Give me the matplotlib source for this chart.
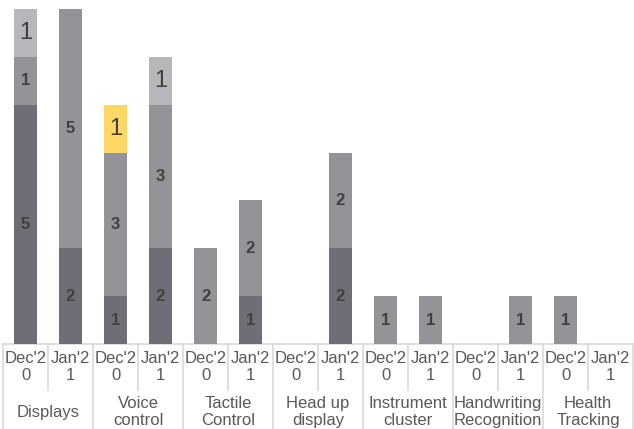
import matplotlib
matplotlib.use("Agg")
import matplotlib.pyplot as plt
import numpy as np

categories = ["Displays", "Voice\ncontrol", "Tactile\nControl", "Head up\ndisplay",
              "Instrument\ncluster", "Handwriting\nRecognition", "Health\nTracking"]
periods = ["Dec'2\n0", "Jan'2\n1"]

dark   = [5, 2, 1, 2, 0, 1, 0, 2, 0, 0, 0, 0, 0, 0]
mid    = [1, 5, 3, 3, 2, 2, 0, 2, 1, 1, 0, 1, 1, 0]
yellow = [0, 0, 1, 0, 0, 0, 0, 0, 0, 0, 0, 0, 0, 0]
light  = [1, 0, 0, 1, 0, 0, 0, 0, 0, 0, 0, 0, 0, 0]

series = [
    (dark,   "#6e6e76", dict(fontsize=12, fontweight="bold")),
    (mid,    "#939398", dict(fontsize=12, fontweight="bold")),
    (yellow, "#fed766", dict(fontsize=17, fontweight="normal")),
    (light,  "#b7b7bb", dict(fontsize=17, fontweight="normal")),
]

plt.rcParams['font.family'] = ['Liberation Sans', 'DejaVu Sans']

W, H = 634, 429
fig = plt.figure(figsize=(W / 100, H / 100), dpi=100)
top_px, zero_px, left_px, right_px = 9, 344, 3, 633
ax = fig.add_axes([left_px / W, 1 - zero_px / H, (right_px - left_px) / W, (zero_px - top_px) / H])

n = len(dark)
x = np.arange(n)
bottom = np.zeros(n)
for vals, color, style in series:
    v = np.array(vals, dtype=float)
    ax.bar(x, v, bottom=bottom, width=0.53, color=color, edgecolor="none", zorder=2)
    for i in range(n):
        if v[i] > 0:
            ax.text(x[i], bottom[i] + v[i] / 2, f"{int(v[i])}", ha="center", va="center",
                    color="#404040", zorder=3, **style)
    bottom += v

ax.set_xlim(-0.5, n - 0.5)
ax.set_ylim(0, 7)
ax.axis("off")

axh = zero_px - top_px
def ay(py):
    return (zero_px - py) / axh

tr = ax.get_xaxis_transform()
line_kw = dict(color="#d9d9d9", lw=1.2, transform=tr, clip_on=False, zorder=1)
ax.plot([-0.5, n - 0.5], [0, 0], **line_kw)
for b in range(n + 1):
    xb = b - 0.5
    if b % 2 == 0:
        ax.plot([xb, xb], [0, ay(440)], **line_kw)
    else:
        ax.plot([xb, xb], [0, ay(390)], **line_kw)

txt_color = "#595959"
for i in range(n):
    ax.text(x[i], ay(367), periods[i % 2], ha="center", va="center", fontsize=12,
            color=txt_color, transform=tr, linespacing=1.15)
for g, cat in enumerate(categories):
    ax.text(2 * g + 0.5, ay(412), cat, ha="center", va="center", fontsize=12,
            color=txt_color, transform=tr, linespacing=1.1)

fig.savefig("out.png", dpi=100)
